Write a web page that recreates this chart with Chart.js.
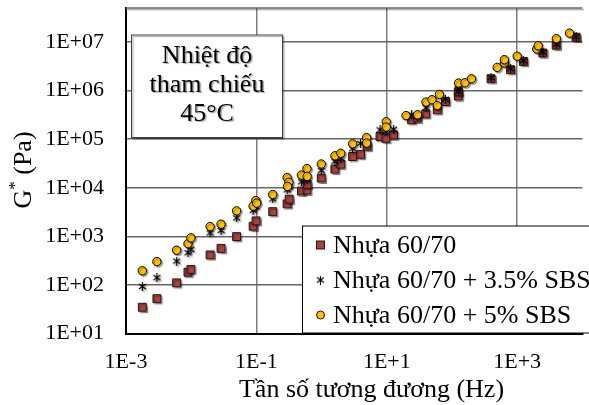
<!DOCTYPE html>
<html>
<head>
<meta charset="utf-8">
<script src="https://cdn.jsdelivr.net/npm/chart.js@4"></script>
<style>
  html, body { margin: 0; padding: 0; background: #fff; }
</style>
</head>
<body>
<canvas id="chart" width="589" height="405"></canvas>
<script>
// Data (Hz, Pa)
const freqBase = [0.00178, 0.00298, 0.00598, 0.00893, 0.0099, 0.0195, 0.0287, 0.0497, 0.0891, 0.0988,
    0.178, 0.296, 0.318, 0.492, 0.596, 0.60, 0.989, 1.60, 1.97, 2.99,
    3.96, 5.0, 7.87, 9.69, 12.7, 24, 29.3, 39.5, 59.4, 79.3,
    125, 125, 397, 792, 1245, 2477, 3963, 8017];
const gBase = [35, 52.6, 111, 184, 210, 417, 568, 993, 1626, 2090,
    3236, 4680, 5850, 8590, 9000, 11800, 15900, 24300, 30700, 44100,
    48900, 71500, 113700, 104500, 122000, 251000, 272000, 331000, 403000, 595000,
    773000, 947000, 1.75e6, 2.69e6, 3.98e6, 5.93e6, 8.59e6, 1.25e7];

const freqSbs35 = [0.00178, 0.00298, 0.00598, 0.00893, 0.0099, 0.0195, 0.0287, 0.0497, 0.0891, 0.0988,
    0.178, 0.296, 0.318, 0.492, 0.596, 0.989, 1.60, 1.97, 2.99, 3.96,
    5.0, 7.87, 9.69, 12.7, 24, 29.5, 40, 59.4, 79.3, 125,
    125, 397, 792, 1245, 2477, 3963, 8017];
const gSbs35 = [93.7, 142, 311, 463, 542, 1183, 1333, 2410, 3440, 4060,
    5930, 9100, 10500, 13300, 14600, 22900, 35100, 40500, 63500, 82400,
    97300, 156000, 142000, 160000, 318000, 296000, 444000, 488000, 664000, 947000,
    1.09e6, 1.84e6, 2.82e6, 4.12e6, 6.16e6, 9.0e6, 1.28e7];

const freqSbs5 = [0.00178, 0.00298, 0.00598, 0.00893, 0.0099, 0.0195, 0.0287, 0.0497, 0.0891, 0.098,
    0.101, 0.178, 0.296, 0.315, 0.30, 0.49, 0.596, 0.60, 0.989, 1.60,
    1.97, 2.99, 4.9, 4.9, 9.8, 9.8, 19.7, 29.6, 39.9, 49.3,
    59.4, 64.1, 126, 158, 199, 493, 636, 636, 1000, 1995,
    2100, 3990, 6340];
const gSbs5 = [197, 304, 521, 710, 934, 1596, 1788, 3360, 4200, 5470,
    4840, 7280, 16300, 13000, 10700, 18300, 24900, 17200, 30900, 45600,
    51300, 80500, 108000, 83200, 229000, 178000, 306000, 318000, 581000, 649000,
    492000, 833000, 1.43e6, 1.45e6, 1.75e6, 3.0e6, 3.69e6, 4.32e6, 5.09e6, 7.17e6,
    8.38e6, 1.17e7, 1.52e7];

const seriesNames = ['Nhựa 60/70', 'Nhựa 60/70 + 3.5% SBS', 'Nhựa 60/70 + 5% SBS'];

// Axis ticks
const xTickValues = [1e-3, 1e-1, 1e1, 1e3];
const xTickLabels = ['1E-3', '1E-1', '1E+1', '1E+3'];
const yTickValues = [1e1, 1e2, 1e3, 1e4, 1e5, 1e6, 1e7];
const yTickLabels = ['1E+01', '1E+02', '1E+03', '1E+04', '1E+05', '1E+06', '1E+07'];

const noteLines = ['Nhiệt độ', 'tham chiếu', '45°C'];
const xTitle = 'Tần số tương đương (Hz)';

const FONT = "'Times New Roman', 'Liberation Serif', serif";
const TICK_SIZE = 22;
const TEXT_SIZE = 26;

function toPoints(xs, ys) {
    return xs.map((x, i) => ({ x: x, y: ys[i] }));
}

// Asterisk marker (X with a vertical bar)
function makeStar(size) {
    const c = document.createElement('canvas');
    c.width = size; c.height = size;
    const g = c.getContext('2d');
    g.strokeStyle = '#000';
    g.lineWidth = 1.2;
    const m = 1, h = size / 2;
    g.beginPath();
    g.moveTo(m, m + 1); g.lineTo(size - m, size - m - 1);
    g.moveTo(size - m, m + 1); g.lineTo(m, size - m - 1);
    g.moveTo(h, 0); g.lineTo(h, size);
    g.stroke();
    return c;
}
const starImg = makeStar(9);

// Marker shadow like Excel
const shadowPlugin = {
    id: 'shadow',
    beforeDatasetsDraw(chart) {
        const ctx = chart.ctx;
        ctx.save();
        ctx.shadowColor = 'rgba(0,0,0,0.35)';
        ctx.shadowOffsetX = 1.5;
        ctx.shadowOffsetY = 1.5;
        ctx.shadowBlur = 1;
    },
    afterDatasetsDraw(chart) {
        chart.ctx.restore();
    }
};

// Top border, note box, legend box and axis titles
const decorPlugin = {
    id: 'decor',
    beforeDatasetsDraw(chart) {
        const { ctx, chartArea } = chart;
        ctx.save();
        ctx.strokeStyle = '#666';
        ctx.lineWidth = 1.5;
        ctx.beginPath();
        ctx.moveTo(chartArea.left, chartArea.top);
        ctx.lineTo(chartArea.right, chartArea.top);
        ctx.stroke();

        // reference temperature box
        ctx.fillStyle = '#fff';
        ctx.fillRect(131.5, 35, 151, 102.5);
        ctx.strokeStyle = '#404040';
        ctx.lineWidth = 1;
        ctx.strokeRect(131.5, 35, 151, 102.5);
        ctx.fillStyle = '#000';
        ctx.font = TEXT_SIZE + 'px ' + FONT;
        ctx.textAlign = 'center';
        ctx.textBaseline = 'middle';
        noteLines.forEach((t, i) => ctx.fillText(t, 207, 56 + i * 29));
        ctx.restore();
    },
    afterDraw(chart) {
        const ctx = chart.ctx;
        ctx.save();
        // legend box
        ctx.fillStyle = '#fff';
        ctx.fillRect(302.5, 226, 300, 107);
        ctx.strokeStyle = '#000';
        ctx.lineWidth = 1;
        ctx.strokeRect(302.5, 226, 300, 107);

        ctx.font = TEXT_SIZE + 'px ' + FONT;
        ctx.textAlign = 'left';
        ctx.textBaseline = 'middle';
        const mx = 320.5;
        const rows = [245, 280, 315];
        // square
        ctx.fillStyle = '#A5433F';
        ctx.strokeStyle = '#2a1010';
        ctx.fillRect(mx - 4, rows[0] - 4, 8, 8);
        ctx.strokeRect(mx - 4, rows[0] - 4, 8, 8);
        // star
        ctx.drawImage(starImg, mx - 4.5, rows[1] - 4.5);
        // circle
        ctx.fillStyle = '#FFC000';
        ctx.beginPath();
        ctx.arc(mx, rows[2], 4, 0, Math.PI * 2);
        ctx.fill();
        ctx.stroke();

        ctx.fillStyle = '#000';
        seriesNames.forEach((t, i) => ctx.fillText(t, 333, rows[i] + 1));

        // x axis title
        ctx.textAlign = 'center';
        ctx.fillText(xTitle, 371.5, 390);

        // y axis title: G* (Pa)
        ctx.translate(24, 170);
        ctx.rotate(-Math.PI / 2);
        ctx.textAlign = 'left';
        const wG = ctx.measureText('G').width;
        const rest = ' (Pa)';
        ctx.font = '17px ' + FONT;
        const wS = ctx.measureText('*').width;
        ctx.font = TEXT_SIZE + 'px ' + FONT;
        const wR = ctx.measureText(rest).width;
        let x0 = -(wG + wS + wR) / 2;
        ctx.fillText('G', x0, 0);
        ctx.font = '17px ' + FONT;
        ctx.fillText('*', x0 + wG, -8);
        ctx.font = TEXT_SIZE + 'px ' + FONT;
        ctx.fillText(rest, x0 + wG + wS, 0);
        ctx.restore();
    }
};

const ctx = document.getElementById('chart').getContext('2d');
new Chart(ctx, {
    type: 'scatter',
    data: {
        datasets: [{
            label: seriesNames[0],
            data: toPoints(freqBase, gBase),
            pointStyle: 'rect',
            pointRadius: 5.6,
            pointHoverRadius: 5.6,
            backgroundColor: '#A5433F',
            borderColor: '#2a1010',
            borderWidth: 1,
            order: 3
        }, {
            label: seriesNames[1],
            data: toPoints(freqSbs35, gSbs35),
            pointStyle: starImg,
            pointRadius: 4.5,
            backgroundColor: '#000',
            borderColor: '#000',
            order: 2
        }, {
            label: seriesNames[2],
            data: toPoints(freqSbs5, gSbs5),
            pointStyle: 'circle',
            pointRadius: 4.2,
            pointHoverRadius: 4.2,
            backgroundColor: '#FFC000',
            borderColor: '#000',
            borderWidth: 1,
            order: 1
        }]
    },
    options: {
        responsive: false,
        animation: false,
        layout: { padding: { top: 8, right: 0, left: 0, bottom: 0 } },
        plugins: {
            legend: { display: false },
            tooltip: { enabled: false }
        },
        scales: {
            x: {
                type: 'logarithmic',
                min: 1e-3,
                max: 1e4,
                afterBuildTicks: (scale) => { scale.ticks = xTickValues.map(v => ({ value: v })); },
                afterFit: (scale) => { scale.height = 71.3; scale.paddingLeft = 0; scale.paddingRight = 0; },
                ticks: {
                    autoSkip: false,
                    maxRotation: 0,
                    padding: 15,
                    color: '#000',
                    font: { family: FONT, size: TICK_SIZE },
                    callback: (v, i) => xTickLabels[i]
                },
                grid: { color: '#7f7f7f', lineWidth: 1.5, drawTicks: false },
                border: { color: '#000', width: 2 }
            },
            y: {
                type: 'logarithmic',
                min: 10,
                max: 5e7,
                afterBuildTicks: (scale) => { scale.ticks = yTickValues.map(v => ({ value: v })); },
                afterFit: (scale) => { scale.width = 126; scale.paddingTop = 0; scale.paddingBottom = 0; },
                ticks: {
                    autoSkip: false,
                    padding: 22,
                    color: '#000',
                    font: { family: FONT, size: TICK_SIZE },
                    callback: (v, i) => yTickLabels[i]
                },
                grid: { color: '#666', lineWidth: 1.5, drawTicks: false },
                border: { color: '#000', width: 2 }
            }
        }
    },
    plugins: [shadowPlugin, decorPlugin]
});
</script>
</body>
</html>
